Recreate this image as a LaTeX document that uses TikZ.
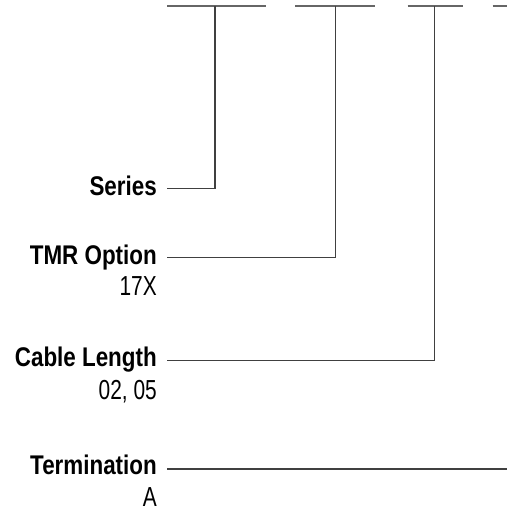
\documentclass[tikz,border=0pt]{standalone}
\usepackage{fontspec}
\setmainfont{Liberation Sans}
\newfontfamily\lblfont[FakeStretch=0.83]{Liberation Sans Bold}
\newfontfamily\valfont[FakeStretch=0.76]{Liberation Sans}
\begin{document}
\begin{tikzpicture}[x=1pt,y=-1pt,
  lbl/.style={anchor=base east,inner sep=0pt,font=\lblfont\fontsize{27}{30}\selectfont},
  val/.style={anchor=base east,inner sep=0pt,font=\valfont\fontsize{27.5}{30}\selectfont},
  topseg/.style={draw=black!60,line width=1.6pt},
  conn/.style={draw=black!75,line width=1.1pt}]
\useasboundingbox (0,0) rectangle (507,510);
% top segments
\coordinate (t1l) at (167,6);   \coordinate (t1r) at (265.7,6);
\coordinate (t2l) at (295,6);   \coordinate (t2r) at (375,6);
\coordinate (t3l) at (407.7,6); \coordinate (t3r) at (462.7,6);
\coordinate (t4l) at (492.7,6); \coordinate (t4r) at (507,6);
\coordinate (v1) at (215,6);
\coordinate (v2) at (335.3,6);
\coordinate (v3) at (434.7,6);
% connector start points
\coordinate (e1) at (167,188.7);
\coordinate (e2) at (167,257.7);
\coordinate (e3) at (167,360.7);
\coordinate (e4) at (167,469);
\coordinate (e4r) at (507,469);
% labels
\node[lbl] (series) at (157,196) {Series};
\node[lbl] (tmr) at (157,264) {TMR Option};
\node[val] (tmrv) at (157,295) {17X};
\node[lbl] (cable) at (157,366) {Cable Length};
\node[val] (cablev) at (157,399) {02, 05};
\node[lbl] (term) at (157,474) {Termination};
\node[val] (termv) at (157,506.5) {A};
% drawing
\draw[topseg] (t1l) -- (t1r);
\draw[topseg] (t2l) -- (t2r);
\draw[topseg] (t3l) -- (t3r);
\draw[topseg] (t4l) -- (t4r);
\draw[conn] (e1) -| (v1);
\draw[conn] (e2) -| (v2);
\draw[conn] (e3) -| (v3);
\draw[conn] (e4) -- (e4r);
\end{tikzpicture}
\end{document}
